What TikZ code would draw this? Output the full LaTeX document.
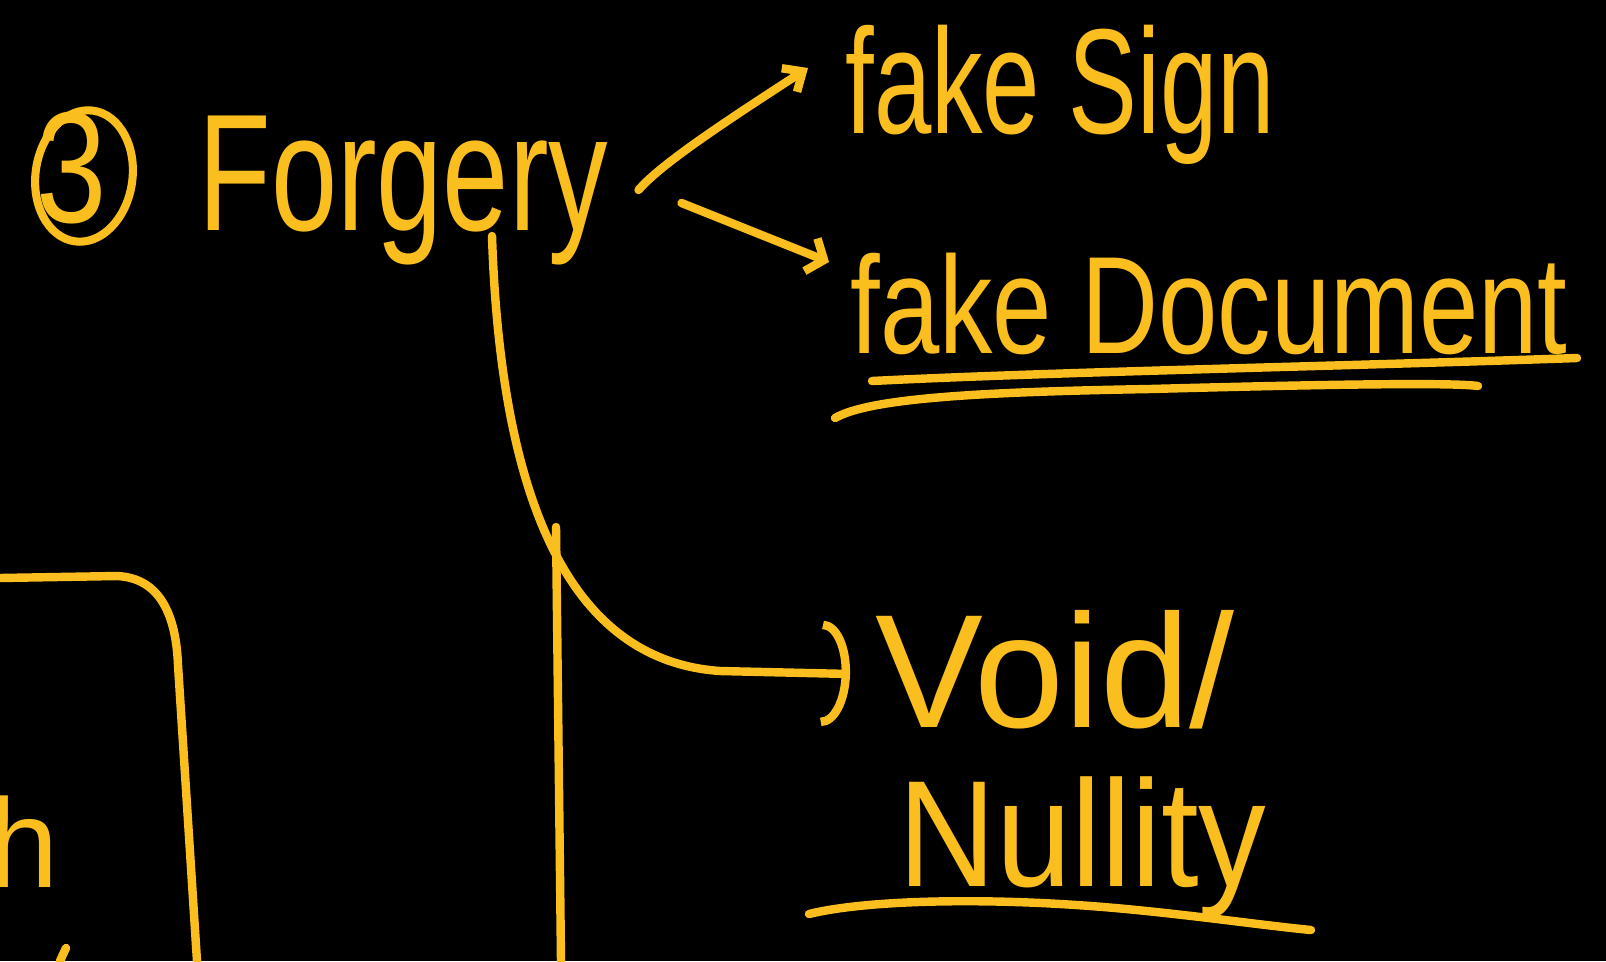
\documentclass[tikz,border=0pt]{standalone}
\usepackage{fontspec}
\setmainfont{Liberation Sans}
\usetikzlibrary{arrows.meta,shapes.geometric}
\definecolor{ink}{RGB}{250,190,30}
\begin{document}
\begin{tikzpicture}[x=0.02cm,y=-0.02cm,
  stroke/.style={draw=ink, line width=4.8pt, line cap=round, line join=round},
  word/.style={text=ink, inner sep=0pt, anchor=base west},
  conn/.style={stroke}]
\fill[black] (0,0) rectangle (1606,961);
\useasboundingbox (0,0) rectangle (1606,961);

% circled number and heading
\node[draw=ink, line width=4.6pt, ellipse, minimum width=1.94cm, minimum height=2.64cm, rotate=-8] (num) at (84,176) {};
\node[text=ink, inner sep=0pt, xscale=0.8, font=\fontsize{90pt}{92pt}\selectfont] (three) at (72,168) {3};
\node[word, yscale=1.4, font=\fontsize{67.7pt}{70pt}\selectfont] (forgery) at (198,230) {Forgery};

% branches
\node[word, yscale=1.45, font=\fontsize{58.7pt}{60pt}\selectfont] (sign) at (845,133) {fake Sign};
\node[word, yscale=1.3, font=\fontsize{60.7pt}{62pt}\selectfont] (doc) at (850,353) {fake Document};
\node[word, font=\fontsize{92pt}{94pt}\selectfont] (void) at (875,727) {Void/};
\node[word, yscale=1.12, font=\fontsize{77pt}{80pt}\selectfont] (nullity) at (898,886) {Nullity};

% connectors
\draw[conn, -{Straight Barb[length=9pt,width=16pt]}]
  ([shift={(30,-40)}]forgery.base east) .. controls (660,165) and (720,125) .. ([shift={(-37,-65)}]sign.base west);
\draw[conn, -{Straight Barb[length=8pt,width=20pt]}]
  ([shift={(73,-27)}]forgery.base east) -- ([shift={(-21,-91)}]doc.base west);
\draw[conn, -{Arc Barb[length=16pt,width=60pt]}]
  ([shift={(294,6)}]forgery.base west) .. controls (500,480) and (560,660) .. (720,671)
  -- ([shift={(-25,-53)}]void.base west);

% underlines
\draw[stroke] (872,381) .. controls (1050,372) and (1350,366) .. (1577,358);
\draw[stroke] (835,418) .. controls (870,398) and (980,392) .. (1150,389)
  .. controls (1300,385) and (1450,382) .. (1478,386);
\draw[stroke] (809,914) .. controls (870,899) and (1000,897) .. (1126,909)
  .. controls (1200,916) and (1260,925) .. (1311,930);

% vertical rule and the box on the left
\draw[stroke] (556,527) -- (561,961);
\draw[stroke] (0,578) -- (117,576) .. controls (160,578) and (176,615) .. (178,665) -- (197,961);
\node[word, font=\fontsize{72pt}{74pt}\selectfont] (h) at (-12,887) {h};
\draw[stroke] (60,961) -- (66,948);
\end{tikzpicture}
\end{document}
